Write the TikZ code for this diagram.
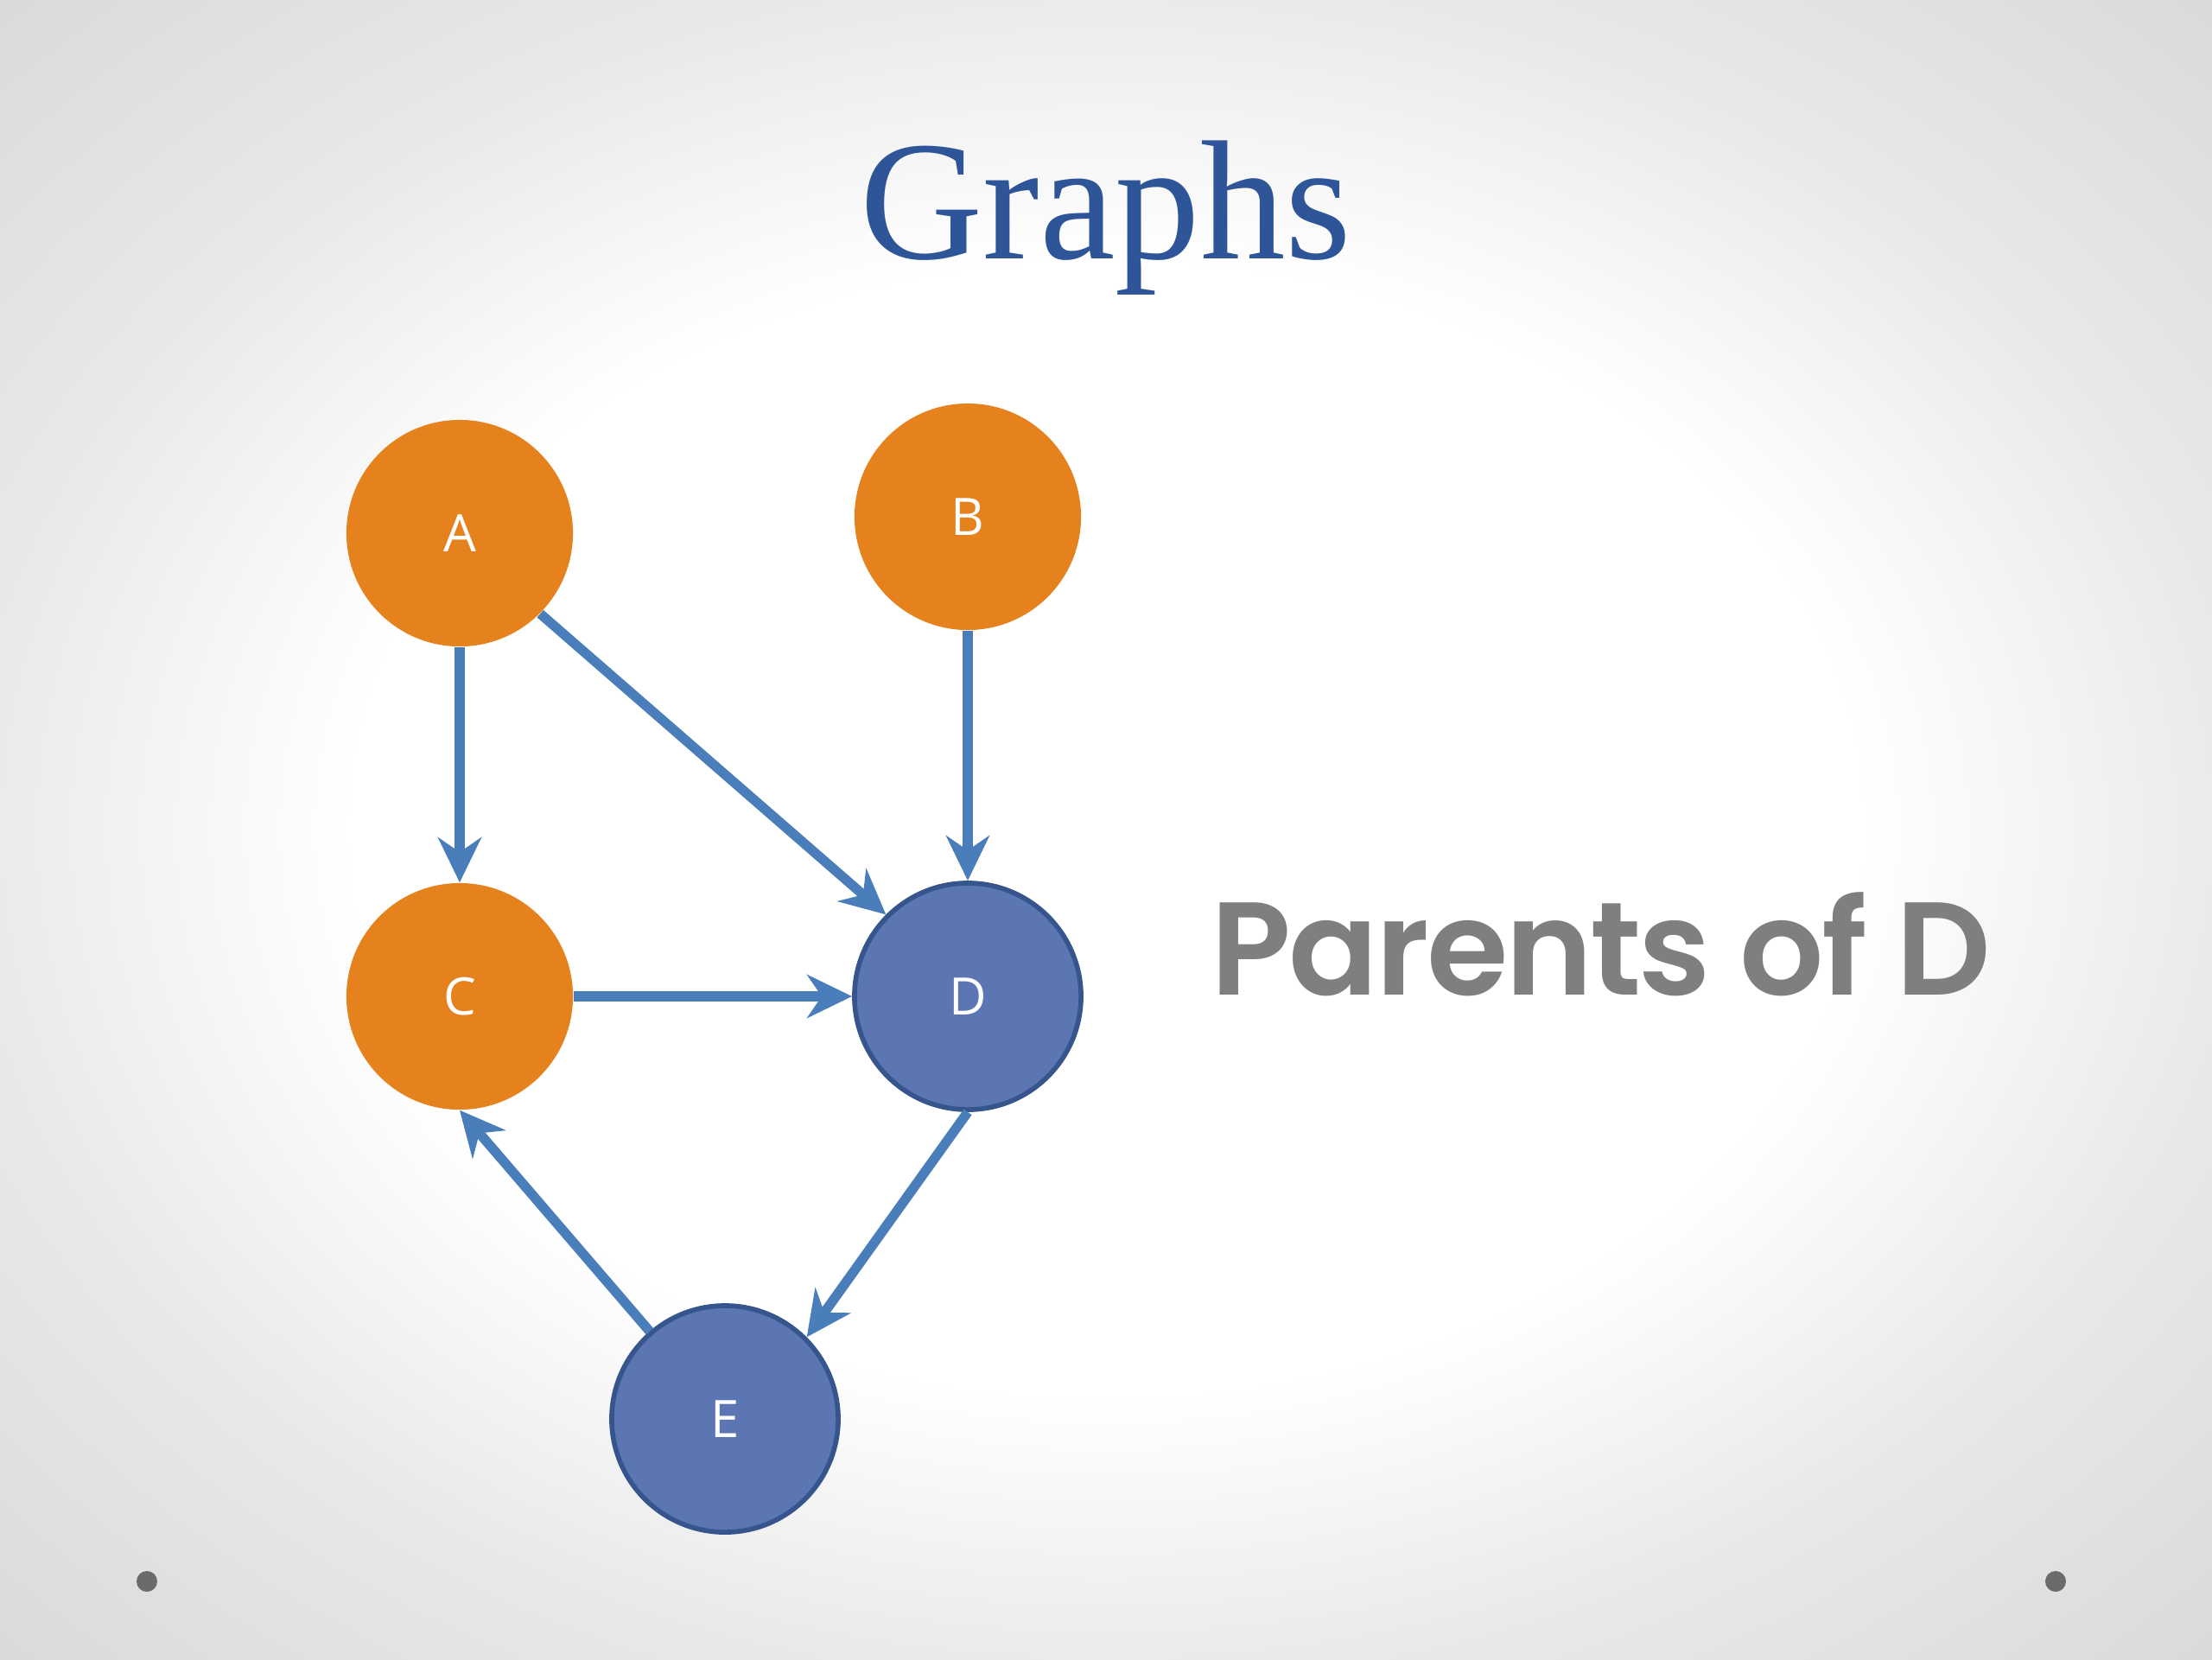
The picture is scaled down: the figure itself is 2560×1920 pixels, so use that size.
\documentclass[tikz,border=0pt]{standalone}
\usepackage{fontspec}
\usetikzlibrary{arrows.meta}
\setmainfont{Liberation Serif}
\newfontfamily\nodefont{Open Sans}
\IfFontExistsTF{Poppins SemiBold}
  {\newfontfamily\gothicfont[LetterSpace=-2]{Poppins SemiBold}}
  {\newfontfamily\gothicfont[FakeBold=1.5,LetterSpace=-2]{Poppins}}

\definecolor{nodeorange}{HTML}{E6821E}
\definecolor{nodeblue}{HTML}{5B76B3}
\definecolor{nodeborder}{HTML}{35558C}
\definecolor{edgeblue}{HTML}{4A7EBB}
\definecolor{titleblue}{HTML}{2E5597}
\definecolor{textgray}{HTML}{7F7F7F}
\definecolor{dotgray}{HTML}{6B6B6B}

\pgfdeclareradialshading{slidebg}{\pgfpoint{0bp}{0bp}}{%
  color(0bp)=(white); color(17bp)=(white); color(26bp)=(black!9);
  color(36bp)=(black!15); color(50bp)=(black!15)}

\tikzset{
  vertex/.style={circle, minimum size=2.62cm, inner sep=0pt,
    font=\nodefont\fontsize{17}{20}\selectfont, text=white},
  parent/.style={vertex, fill=nodeorange},
  other/.style={vertex, fill=nodeblue, draw=nodeborder, line width=1.6pt},
  edge/.style={-{Stealth[length=5.2mm,width=5mm,inset=1.7mm]},
    draw=edgeblue, line width=3.2pt},
}

\begin{document}
\begin{tikzpicture}[x=0.01cm, y=-0.01cm]
        \shade[shading=slidebg] (0,0) rectangle (2560,1920);
        \useasboundingbox (0,0) rectangle (2560,1920);
        \node[anchor=base, text=titleblue, font=\fontsize{56}{60}\selectfont]
            (title) at (1280,299) {Graphs};
        \node[parent] (A) at (532,617) {A};
        \node[parent] (B) at (1120,598) {B};
        \node[parent] (C) at (532,1153) {C};
        \node[other] (D) at (1120,1153) {D};
        \node[other] (E) at (839,1642) {E};
        \node[anchor=base west, inner sep=0pt, text=textgray,
            font=\gothicfont\fontsize{43.5}{50}\selectfont]
            (parents) at (1401,1151) {Parents of D};
        \draw[edge] (A.south) -- (C.north);
        \draw[edge] (A.south east) -- (D.north west);
        \draw[edge] (B.south) -- (D.north);
        \draw[edge] (C.east) -- (D.west);
        \draw[edge] (D.south) -- (E.north east);
        \draw[edge] (E) -- (C.south);
        \fill[dotgray] (170,1830) circle (12);
        \fill[dotgray] (2379,1830) circle (12);
\end{tikzpicture}
\end{document}
